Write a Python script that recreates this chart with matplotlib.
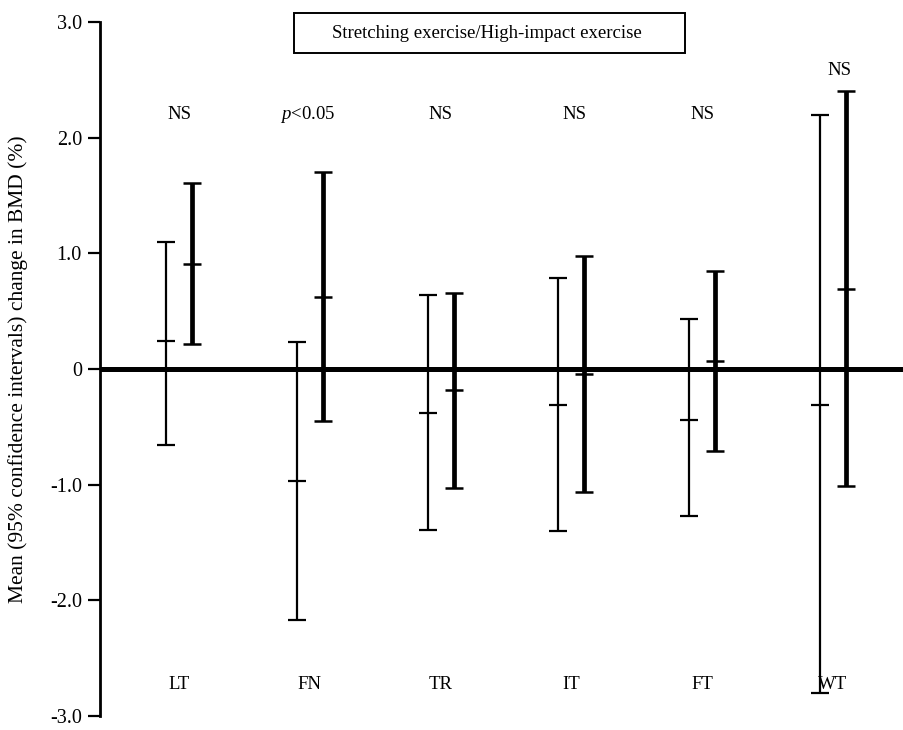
import numpy as np
from matplotlib import pyplot as plt
from matplotlib.patches import Rectangle

plt.rcParams['font.family'] = ['Liberation Serif', 'DejaVu Serif']
plt.rcParams['mathtext.fontset'] = 'custom'
plt.rcParams['mathtext.rm'] = 'Liberation Serif'
plt.rcParams['mathtext.it'] = 'Liberation Serif:italic'

sites = ["LT", "FN", "TR", "IT", "FT", "WT"]
notes = ["NS", "$\\it{p}$<0.05", "NS", "NS", "NS", "NS"]

# stretching exercise (thin bars)
stretch_mean = [0.24, -0.97, -0.38, -0.31, -0.44, -0.31]
stretch_low = [-0.66, -2.17, -1.39, -1.40, -1.27, -2.80]
stretch_high = [1.10, 0.23, 0.64, 0.79, 0.43, 2.20]

# high-impact exercise (thick bars)
impact_mean = [0.91, 0.62, -0.18, -0.04, 0.07, 0.69]
impact_low = [0.22, -0.45, -1.03, -1.06, -0.71, -1.01]
impact_high = [1.61, 1.70, 0.66, 0.98, 0.85, 2.40]

x = np.arange(len(sites))
off = 0.1

fig = plt.figure(figsize=(9.04, 7.30), dpi=100)
ax = fig.add_axes([100 / 904, 1 - 716 / 730, 804 / 904, 694 / 730])

ax.axhline(0, color="black", lw=3.6, zorder=1)

s_mean = np.array(stretch_mean)
s_err = [s_mean - np.array(stretch_low), np.array(stretch_high) - s_mean]
ax.errorbar(x - off, s_mean, yerr=s_err, fmt="_", color="black", ms=13, mew=1.6,
            elinewidth=1.6, capsize=6.5, capthick=1.6, zorder=3)

i_mean = np.array(impact_mean)
i_err = [i_mean - np.array(impact_low), np.array(impact_high) - i_mean]
ax.errorbar(x + off, i_mean, yerr=i_err, fmt="_", color="black", ms=13, mew=1.8,
            elinewidth=3.4, capsize=6.5, capthick=2.0, zorder=3)

note_y = [2.2, 2.2, 2.2, 2.2, 2.2, 2.58]
note_dx = [0.0, -0.02, 0.0, 0.02, 0.0, 0.05]
for i, (n, ny, dx) in enumerate(zip(notes, note_y, note_dx)):
    ax.text(x[i] + dx, ny, n, ha="center", va="center", fontsize=13.5)

for i, s in enumerate(sites):
    ax.text(x[i], -2.73, s, ha="center", va="center", fontsize=13.5)

ax.set_xlim(-0.604, 5.543)
ax.set_ylim(-3.0, 3.0)
ax.set_yticks([3, 2, 1, 0, -1, -2, -3])
ax.set_yticklabels(["3.0", "2.0", "1.0", "0", "-1.0", "-2.0", "-3.0"], fontsize=14.5)
ax.tick_params(axis="y", direction="out", length=9, width=1.6, pad=4)
ax.set_xticks([])
for side in ["top", "right", "bottom"]:
    ax.spines[side].set_visible(False)
ax.spines["left"].set_linewidth(2.0)
ax.set_ylabel("Mean (95% confidence intervals) change in BMD (%)", fontsize=15.5)
ax.yaxis.set_label_coords(-0.09, 0.5)

fig.patches.append(Rectangle((294 / 904, 1 - 53 / 730), 391 / 904, 40 / 730,
                             transform=fig.transFigure, fill=False, ec="black", lw=1.4))
fig.text(487 / 904, 1 - 33 / 730, "Stretching exercise/High-impact exercise",
         ha="center", va="center", fontsize=13.5)

fig.savefig("out.png", dpi=100)
